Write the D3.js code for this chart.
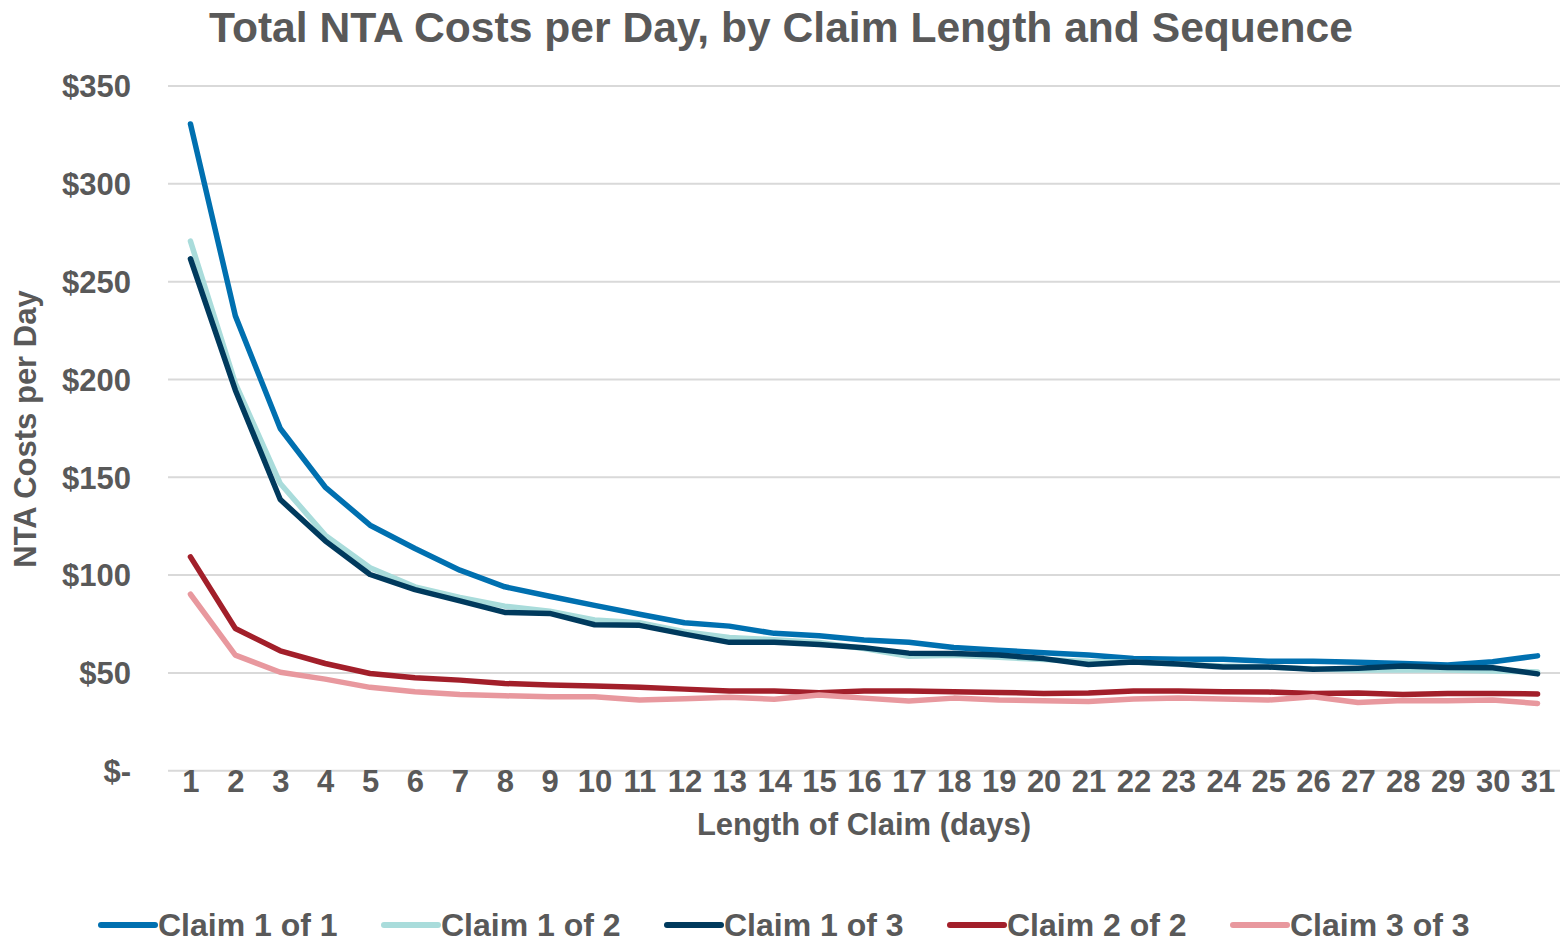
<!DOCTYPE html>
<html>
<head>
<meta charset="utf-8">
<script src="https://cdn.jsdelivr.net/npm/d3@7"></script>
<style>
  body { margin: 0; background: #fff; }
  text { font-family: Arial, "Liberation Sans", sans-serif; font-weight: bold; fill: #595959; }
</style>
</head>
<body>
<script>
const w = 1561
const h = 943

const days = d3.range(1, 32)
const seriesNames = ['Claim 1 of 1', 'Claim 1 of 2', 'Claim 1 of 3', 'Claim 2 of 2', 'Claim 3 of 3']
const colors = ['#0070b0', '#a9dcdb', '#003a5d', '#a21f2a', '#e8989e']

const claim1of1 = [330.6, 232.5, 174.9, 145, 125.5, 113.6, 102.5, 94, 89.2, 84.5, 80, 75.6, 73.9, 70.2, 69, 66.8, 65.7, 63, 61.6, 60.3, 59.1, 57.4, 57, 57, 56, 56, 55.4, 54.8, 54, 55.7, 58.7]
const claim1of2 = [270.7, 198, 146.8, 120.4, 103.7, 94, 88.6, 84.1, 81.5, 77, 75.6, 71, 68.1, 67, 65.5, 62.5, 58.5, 59, 58, 56.8, 55.8, 55.5, 54.5, 53.5, 53, 52, 51.5, 51.5, 51.5, 51, 50.5]
const claim1of3 = [261.7, 194.5, 138.6, 117.5, 100.3, 92.6, 86.8, 80.9, 80.4, 74.6, 74.3, 69.8, 65.6, 65.7, 64.5, 62.8, 60.1, 59.9, 59.1, 57.3, 54.3, 55.6, 54.5, 53, 53, 51.8, 52.4, 53.5, 52.8, 52.6, 49.5]
const claim2of2 = [109.3, 72.7, 61.3, 54.8, 49.7, 47.5, 46.3, 44.6, 43.8, 43.3, 42.7, 41.7, 40.7, 40.7, 39.8, 40.7, 40.7, 40.3, 40, 39.5, 39.7, 40.7, 40.7, 40.3, 40.2, 39.5, 39.7, 39, 39.5, 39.5, 39.2]
const claim3of3 = [90.2, 59.1, 50.3, 46.8, 42.6, 40.4, 39, 38.3, 37.8, 37.8, 36.1, 36.8, 37.5, 36.5, 38.7, 37.1, 35.6, 37.1, 36.1, 35.8, 35.4, 36.6, 37.1, 36.6, 36.1, 37.8, 34.9, 35.9, 35.8, 36.1, 34.4]
const allSeries = [claim1of1, claim1of2, claim1of3, claim2of2, claim3of3]

const yTicks = [0, 50, 100, 150, 200, 250, 300, 350]

const svg = d3.select('body').append('svg').attr('width', w).attr('height', h)

const x = d3.scalePoint().domain(days).range([168, 1560]).padding(0.5)
const y = d3.scaleLinear().domain([0, 350]).range([770.7, 86])

// gridlines
svg.append('g').selectAll('line').data(yTicks).enter().append('line')
  .attr('x1', 168).attr('x2', 1560)
  .attr('y1', d => y(d)).attr('y2', d => y(d))
  .attr('stroke', '#d9d9d9').attr('stroke-width', 2)

// y axis
const leftAxis = d3.axisLeft(y).tickValues(yTicks).tickSize(0).tickPadding(0)
  .tickFormat(d => d === 0 ? '$-' : '$' + d)
const yg = svg.append('g').attr('transform', 'translate(131,0)').call(leftAxis)
yg.select('.domain').remove()
yg.selectAll('text').style('font-size', '31px').attr('dy', '0.35em').attr('fill', '#595959')

// x axis
const bottomAxis = d3.axisBottom(x).tickSize(0).tickPadding(0)
const xg = svg.append('g').attr('transform', 'translate(0,770)').call(bottomAxis)
xg.select('.domain').remove()
xg.selectAll('text').style('font-size', '31px').attr('dy', '0.71em').attr('fill', '#595959')

// lines
const line = d3.line().x((d, i) => x(days[i])).y(d => y(d))
svg.append('g').selectAll('path').data(allSeries).enter().append('path')
  .attr('d', line)
  .attr('fill', 'none')
  .attr('stroke', (d, i) => colors[i])
  .attr('stroke-width', 5.5)
  .attr('stroke-linecap', 'round')
  .attr('stroke-linejoin', 'round')

// titles
svg.append('text').text('Total NTA Costs per Day, by Claim Length and Sequence')
  .attr('x', 781).attr('y', 42).attr('text-anchor', 'middle').style('font-size', '42.6px')
svg.append('text').text('Length of Claim (days)')
  .attr('x', 864).attr('y', 835).attr('text-anchor', 'middle').style('font-size', '31px')
svg.append('text').text('NTA Costs per Day')
  .attr('transform', 'translate(36,429) rotate(-90)').attr('text-anchor', 'middle').style('font-size', '31px')

// legend
const legend = svg.append('g').selectAll('g').data(seriesNames).enter().append('g')
  .attr('transform', (d, i) => 'translate(' + (101 + i * 283) + ',925)')
legend.append('line').attr('x1', 0).attr('x2', 54).attr('y1', 0).attr('y2', 0)
  .attr('stroke', (d, i) => colors[i]).attr('stroke-width', 6).attr('stroke-linecap', 'round')
legend.append('text').text(d => d).attr('x', 57).attr('y', 11).style('font-size', '32px')
</script>
</body>
</html>
